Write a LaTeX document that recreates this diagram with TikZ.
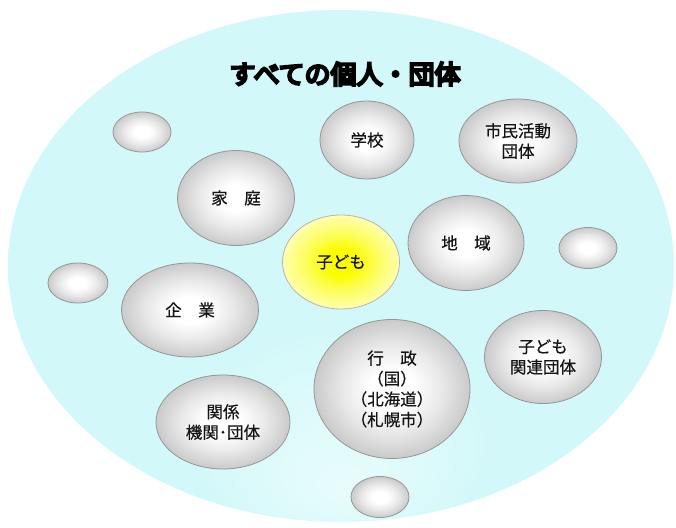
\documentclass[tikz,border=0pt]{standalone}
\usepackage{fontspec}
\usetikzlibrary{shapes.geometric}
\newfontfamily\jp[FakeBold=0.6]{Noto Sans CJK JP}
\newfontfamily\jptitle[FakeBold=9]{Noto Sans CJK JP}
\definecolor{bgcyan}{RGB}{210,248,249}
\definecolor{bgcyanlow}{RGB}{232,252,252}
\definecolor{balledge}{RGB}{202,202,202}
\definecolor{ballmid}{RGB}{232,232,232}
\definecolor{ballline}{RGB}{150,150,150}
\definecolor{yelcore}{RGB}{252,252,0}
\definecolor{yelmid}{RGB}{253,253,90}
\definecolor{yeledge}{RGB}{255,255,175}
\definecolor{txt}{RGB}{20,20,20}
\pgfdeclareradialshading{grayball}{\pgfpoint{0bp}{0bp}}{color(0bp)=(white); color(7bp)=(white); color(16bp)=(ballmid); color(25bp)=(balledge); color(50bp)=(balledge)}
\pgfdeclareradialshading{yelball}{\pgfpoint{0bp}{0bp}}{color(0bp)=(yelcore); color(7bp)=(yelcore); color(15bp)=(yelmid); color(25bp)=(yeledge); color(50bp)=(yeledge)}
\pgfdeclareradialshading{bgshade}{\pgfpoint{0bp}{-22bp}}{color(0bp)=(bgcyanlow); color(12bp)=(bgcyan); color(25bp)=(bgcyan); color(50bp)=(bgcyan)}
\tikzset{
  ball/.style={ellipse, draw=ballline, line width=0.8pt, shading=grayball, inner sep=0pt,
    font=\jp\fontsize{16.5}{20.5}\selectfont, text=txt, align=center},
  yball/.style={ball, draw=ballline!70, shading=yelball},
}
\begin{document}
\begin{tikzpicture}[x=1pt,y=-1pt]
\useasboundingbox (0,0) rectangle (676,527);
\node[ellipse, minimum width=666pt, minimum height=512pt, inner sep=0pt, shading=bgshade] (bg) at (341,266) {};
\node[font=\jptitle\fontsize{26}{30}\selectfont, text=black] (title) at (345,74) {すべての個人・団体};
\node[ball, minimum width=58pt, minimum height=40pt] (s1) at (142,132) {};
\node[ball, minimum width=58pt, minimum height=41pt] (s2) at (588,248) {};
\node[ball, minimum width=60pt, minimum height=40pt] (s3) at (78,283) {};
\node[ball, minimum width=58pt, minimum height=41pt] (s4) at (380,497) {};
\node[ball, minimum width=94pt, minimum height=78pt] (school) at (367,140) {学校};
\node[ball, minimum width=118pt, minimum height=84pt] (civic) at (518,141) {市民活動\\団体};
\node[ball, minimum width=117pt, minimum height=95pt] (home) at (236,198) {家　庭};
\node[yball, minimum width=117pt, minimum height=94pt] (child) at (341,262) {子ども};
\node[ball, minimum width=116pt, minimum height=95pt] (area) at (466,243) {地　域};
\node[ball, minimum width=137pt, minimum height=94pt] (corp) at (190,310) {企　業};
\node[ball, minimum width=117pt, minimum height=93pt] (kids) at (543,357) {子ども\\関連団体};
\node[ball, minimum width=156pt, minimum height=139pt] (gov) at (392,389) {行　政\\（国）\\（北海道）\\（札幌市）};
\node[ball, minimum width=134pt, minimum height=94pt] (rel) at (223,422) {関係\\機関･団体};
\end{tikzpicture}
\end{document}
